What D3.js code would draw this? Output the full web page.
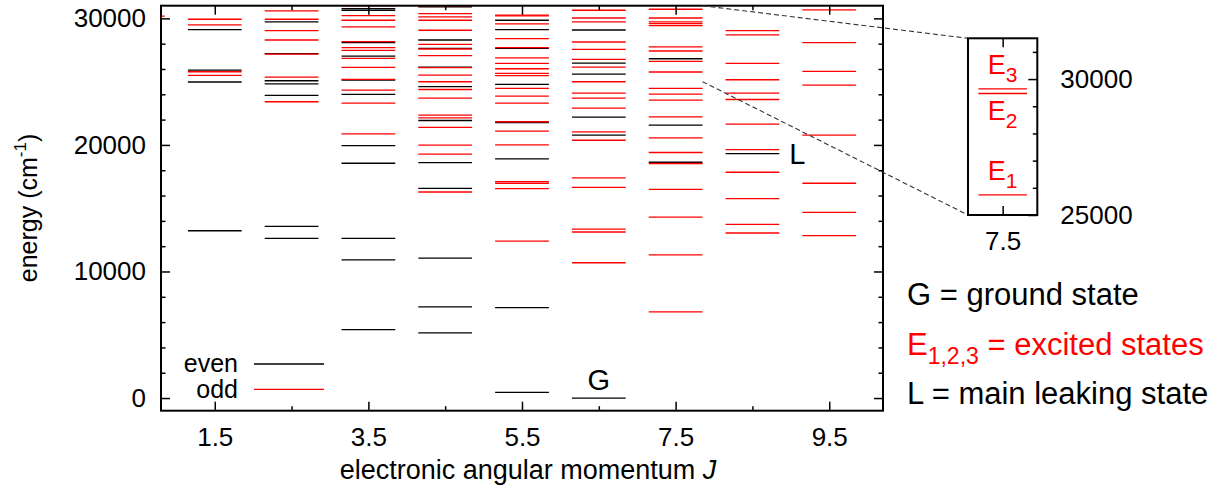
<!DOCTYPE html>
<html>
<head>
<meta charset="utf-8">
<script src="https://cdn.jsdelivr.net/npm/d3@7"></script>
<style>
  body { margin: 0; background: #fff; }
  svg { display: block; font-family: "Liberation Sans", Arial, sans-serif; }
</style>
</head>
<body>
<svg id="chart" width="1223" height="490"></svg>
<script>
// energy levels (cm-1) per J
var jValues = [0.5, 1.5, 2.5, 3.5, 4.5, 5.5, 6.5, 7.5, 8.5, 9.5];

var evenLevels = [
  [],
  [29110, 25910, 24970, 13220],
  [29720, 27210, 25070, 24830, 23910, 13560, 12610],
  [30770, 30640, 28080, 27020, 25120, 23990, 19950, 18550, 12610, 10920, 5410],
  [30900, 28290, 27630, 26150, 24600, 21930, 18600, 16570, 11060, 7200, 5150],
  [29850, 29110, 27630, 24780, 21760, 18890, 7150, 450],
  [29080, 26470, 25600, 22190, 20770, 0],
  [26810, 21560, 18630],
  [19320],
  []
];

var oddLevels = [
  [30170],
  [29930, 29480, 25780, 25490],
  [30590, 29930, 29030, 28290, 27180, 25360, 23410],
  [30980, 30220, 29850, 29320, 28160, 27680, 27470, 26840, 26130, 25180, 24330, 23300, 20870],
  [30960, 30380, 30110, 29850, 29060, 27950, 27580, 27050, 26100, 25520, 24990, 24380, 23700, 22350, 22140, 21380, 19980, 19270, 16280],
  [30250, 30190, 29560, 28400, 27680, 26870, 26440, 26020, 25650, 25470, 24460, 23860, 23300, 21830, 21090, 20000, 17100, 16970, 16550, 12400],
  [30640, 30030, 29720, 28130, 27550, 26760, 26150, 24990, 24090, 23700, 22910, 21030, 20370, 17390, 16650, 13350, 13120, 10690],
  [30720, 30030, 29720, 29580, 29430, 27740, 27420, 26600, 25760, 24460, 24020, 23540, 22220, 20560, 19400, 18530, 16490, 14300, 11320, 6810],
  [29030, 28690, 26440, 25150, 24090, 23590, 21640, 19630, 17840, 15760, 13720, 13040],
  [30670, 28080, 25810, 24730, 20770, 16970, 14670, 12830]
];

var xTicksMajor = [1.5, 3.5, 5.5, 7.5, 9.5];
var xTicksMinor = [2.5, 4.5, 6.5, 8.5];
var yTicksMajor = [0, 10000, 20000, 30000];
var yTicksMinor = [2000, 4000, 6000, 8000, 12000, 14000, 16000, 18000, 22000, 24000, 26000, 28000];

// zoomed inset at J = 7.5
var insetJ = 7.5;
var insetLevels = [25740, 29470, 29640];
var insetNames = ["1", "2", "3"];
var insetTicksMajor = [25000, 30000];
var insetTicksMinor = [26000, 27000, 28000, 29000, 31000];

var groundJ = 6.5, groundE = 0;
var leakJ = 8.5, leakE = 19320;

var RED = "#ff0000";
var halfW = 0.35;

var svg = d3.select("#chart");

var plotL = 161, plotR = 883, plotT = 5.7, plotB = 410.7;
var x = d3.scaleLinear().domain([0.8, 10.2]).range([plotL, plotR]);
var y = d3.scaleLinear().domain([-1000, 31000]).range([plotB, plotT]);

svg.append("defs").append("clipPath").attr("id", "plotclip")
  .append("rect").attr("x", plotL).attr("y", plotT)
  .attr("width", plotR - plotL).attr("height", plotB - plotT);

// levels
var rows = [];
jValues.forEach(function(j, i) {
  evenLevels[i].forEach(function(e) { rows.push({ j: j, e: e, odd: false }); });
});
jValues.forEach(function(j, i) {
  oddLevels[i].forEach(function(e) { rows.push({ j: j, e: e, odd: true }); });
});

svg.append("g").attr("clip-path", "url(#plotclip)")
  .selectAll("line").data(rows).enter().append("line")
  .attr("x1", function(d) { return x(d.j - halfW); })
  .attr("x2", function(d) { return x(d.j + halfW); })
  .attr("y1", function(d) { return y(d.e); })
  .attr("y2", function(d) { return y(d.e); })
  .attr("stroke", function(d) { return d.odd ? RED : "#000"; })
  .attr("stroke-width", 1.3);

// axes, gnuplot style (ticks inside, mirrored)
function styleAxis(g) {
  g.select(".domain").remove();
  g.selectAll(".tick line").attr("stroke", "#000").attr("stroke-width", 1.5);
  g.selectAll("text").attr("fill", "#000").attr("font-family", null);
}

svg.append("g").attr("transform", "translate(0," + plotB + ")")
  .call(d3.axisBottom(x).tickValues(xTicksMajor).tickSize(-9).tickPadding(17).tickFormat(d3.format(".1f")))
  .call(styleAxis).attr("font-size", 26);
svg.append("g").attr("transform", "translate(0," + plotB + ")")
  .call(d3.axisBottom(x).tickValues(xTicksMinor).tickSize(-4.5).tickFormat(""))
  .call(styleAxis);
svg.append("g").attr("transform", "translate(0," + plotT + ")")
  .call(d3.axisTop(x).tickValues(xTicksMajor).tickSize(-9).tickFormat(""))
  .call(styleAxis);
svg.append("g").attr("transform", "translate(0," + plotT + ")")
  .call(d3.axisTop(x).tickValues(xTicksMinor).tickSize(-4.5).tickFormat(""))
  .call(styleAxis);

svg.append("g").attr("transform", "translate(" + plotL + ",0)")
  .call(d3.axisLeft(y).tickValues(yTicksMajor).tickSize(-9).tickPadding(15).tickFormat(d3.format("d")))
  .call(styleAxis).attr("font-size", 26);
svg.append("g").attr("transform", "translate(" + plotL + ",0)")
  .call(d3.axisLeft(y).tickValues(yTicksMinor).tickSize(-4.5).tickFormat(""))
  .call(styleAxis);
svg.append("g").attr("transform", "translate(" + plotR + ",0)")
  .call(d3.axisRight(y).tickValues(yTicksMajor).tickSize(-9).tickFormat(""))
  .call(styleAxis);
svg.append("g").attr("transform", "translate(" + plotR + ",0)")
  .call(d3.axisRight(y).tickValues(yTicksMinor).tickSize(-4.5).tickFormat(""))
  .call(styleAxis);

svg.append("rect").attr("x", plotL).attr("y", plotT)
  .attr("width", plotR - plotL).attr("height", plotB - plotT)
  .attr("fill", "none").attr("stroke", "#000").attr("stroke-width", 2);

// axis titles
svg.append("text").attr("x", 528).attr("y", 479)
  .attr("text-anchor", "middle").attr("font-size", 27)
  .text("electronic angular momentum ")
  .append("tspan").attr("font-style", "italic").text("J");

var yt = svg.append("text").attr("transform", "translate(37,208) rotate(-90)")
  .attr("text-anchor", "middle").attr("font-size", 25);
yt.append("tspan").text("energy (cm");
yt.append("tspan").attr("font-size", 17).attr("dy", -11).text("-1");
yt.append("tspan").attr("dy", 11).text(")");

// legend inside the plot
var legend = [{ name: "even", color: "#000", ty: 372, ly: 364 }, { name: "odd", color: RED, ty: 398, ly: 389.3 }];
legend.forEach(function(d) {
  svg.append("text").attr("x", 238).attr("y", d.ty).attr("text-anchor", "end")
    .attr("font-size", 25).text(d.name);
  svg.append("line").attr("x1", 254).attr("x2", 324).attr("y1", d.ly).attr("y2", d.ly)
    .attr("stroke", d.color).attr("stroke-width", 1.3);
});

// G and L labels
svg.append("text").attr("x", x(groundJ)).attr("y", y(groundE) - 8)
  .attr("text-anchor", "middle").attr("font-size", 29).text("G");
svg.append("text").attr("x", x(leakJ + halfW) + 10).attr("y", y(leakE) + 10)
  .attr("font-size", 29).text("L");

// inset
var ix = d3.scaleLinear().domain([7, 8]).range([968, 1037.3]);
var iy = d3.scaleLinear().domain([25000, 31500]).range([215, 38.3]);

// dashed connectors
var conn = [
  [[x(insetJ + halfW), y(31000)], [ix(7), iy(31500)]],
  [[x(insetJ + halfW), y(25000)], [ix(7), iy(25000)]]
];
svg.append("g").selectAll("path").data(conn).enter().append("path")
  .attr("d", function(d) { return d3.line()(d); })
  .attr("fill", "none").attr("stroke", "#333").attr("stroke-width", 1.1)
  .attr("stroke-dasharray", "5,3");

svg.append("g").selectAll("line").data(insetLevels).enter().append("line")
  .attr("x1", ix(insetJ - halfW)).attr("x2", ix(insetJ + halfW))
  .attr("y1", function(d) { return iy(d); }).attr("y2", function(d) { return iy(d); })
  .attr("stroke", RED).attr("stroke-width", 1.3);

svg.append("g").attr("transform", "translate(1037.3,0)")
  .call(d3.axisRight(iy).tickValues(insetTicksMajor).tickSize(-9).tickPadding(23).tickFormat(d3.format("d")))
  .call(styleAxis).attr("font-size", 26);
svg.append("g").attr("transform", "translate(1037.3,0)")
  .call(d3.axisRight(iy).tickValues(insetTicksMinor).tickSize(-4.5).tickFormat(""))
  .call(styleAxis);
svg.append("g").attr("transform", "translate(0,215)")
  .call(d3.axisBottom(ix).tickValues([insetJ]).tickSize(-9).tickPadding(17).tickFormat(d3.format(".1f")))
  .call(styleAxis).attr("font-size", 26);
svg.append("g").attr("transform", "translate(0,38.3)")
  .call(d3.axisTop(ix).tickValues([insetJ]).tickSize(-9).tickFormat(""))
  .call(styleAxis);
svg.append("rect").attr("x", ix(7)).attr("y", iy(31500))
  .attr("width", ix(8) - ix(7)).attr("height", iy(25000) - iy(31500))
  .attr("fill", "none").attr("stroke", "#000").attr("stroke-width", 2);

// E labels: E3 and E1 above their line, E2 below
var labelOffset = [-15, 27, -15];
insetLevels.forEach(function(e, i) {
  var t = svg.append("text").attr("x", ix(insetJ)).attr("y", iy(e) + labelOffset[i])
    .attr("text-anchor", "middle").attr("font-size", 27).attr("fill", RED);
  t.append("tspan").text("E");
  t.append("tspan").attr("font-size", 21).attr("dy", 8).text(insetNames[i]);
});

// text key on the right
svg.append("text").attr("x", 907).attr("y", 305).attr("font-size", 31).text("G = ground state");
var ek = svg.append("text").attr("x", 907).attr("y", 355).attr("font-size", 31).attr("fill", RED);
ek.append("tspan").text("E");
ek.append("tspan").attr("font-size", 23).attr("dy", 9).text(insetNames.join(","));
ek.append("tspan").attr("dy", -9).text(" = excited states");
svg.append("text").attr("x", 907).attr("y", 404).attr("font-size", 31).text("L = main leaking state");
</script>
</body>
</html>
